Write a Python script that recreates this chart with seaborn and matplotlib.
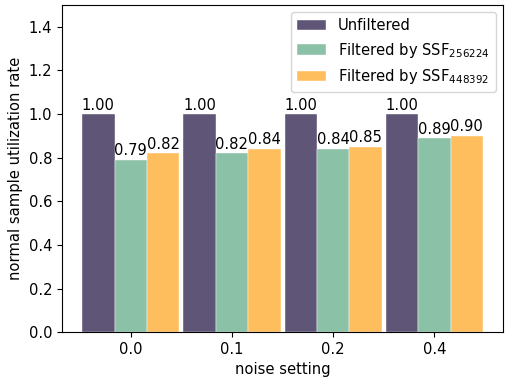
import numpy as np
import pandas as pd
import matplotlib
matplotlib.use("Agg")
import matplotlib.pyplot as plt
import seaborn as sns

# chart values
noise_settings = ["0.0", "0.1", "0.2", "0.4"]
series_names = ["Unfiltered", "Filtered by SSF$_{256224}$", "Filtered by SSF$_{448392}$"]
unfiltered = [1.00, 1.00, 1.00, 1.00]
filtered_256224 = [0.79, 0.82, 0.84, 0.89]
filtered_448392 = [0.82, 0.84, 0.85, 0.90]

colors = ["#5f5577", "#8bc1a6", "#ffbe5e"]

df = pd.DataFrame({
    "noise setting": noise_settings * 3,
    "rate": unfiltered + filtered_256224 + filtered_448392,
    "series": [series_names[0]] * 4 + [series_names[1]] * 4 + [series_names[2]] * 4,
})

sns.set_style("ticks", {"axes.edgecolor": "black", "xtick.color": "black",
                        "ytick.color": "black", "text.color": "black",
                        "axes.labelcolor": "black"})
plt.rcParams["font.family"] = ["DejaVu Sans"]
fs = 10.6

fig, ax = plt.subplots(figsize=(5.05, 3.77), dpi=100)
sns.barplot(data=df, x="noise setting", y="rate", hue="series",
            palette=colors, width=0.96, saturation=1, ax=ax,
            edgecolor="white", linewidth=0.3, errorbar=None)

for c in ax.containers:
    ax.bar_label(c, fmt="%.2f", fontsize=fs, padding=1)

# matplotlib-like 5% margins around the bars
ax.set_xlim(-0.48 - 0.198, 3.48 + 0.198)
ax.set_ylim(0, 1.5)
ax.set_yticks(np.arange(0, 1.41, 0.2))
ax.tick_params(labelsize=fs)
ax.set_xlabel("noise setting", fontsize=fs)
ax.set_ylabel("normal sample utilization rate", fontsize=fs)
ax.legend(loc="upper right", fontsize=fs, title=None)

fig.subplots_adjust(left=0.123, right=0.996, top=0.987, bottom=0.119)
plt.savefig("out.png", dpi=100)
